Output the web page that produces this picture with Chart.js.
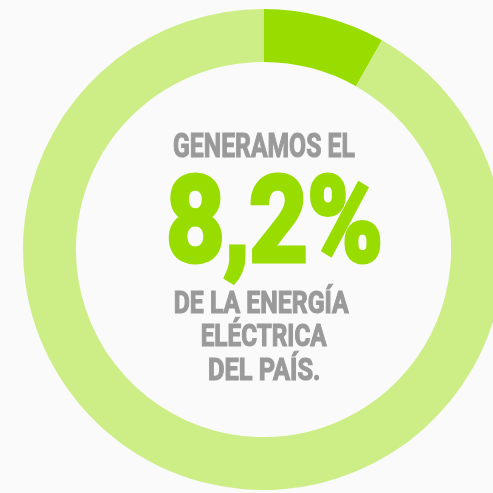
<!DOCTYPE html>
<html>
<head>
<meta charset="utf-8">
<script src="https://cdn.jsdelivr.net/npm/chart.js@4/dist/chart.umd.min.js"></script>
<style>
  html, body { margin: 0; padding: 0; background: #fafafa; overflow: hidden; width: 493px; height: 493px; }
  #wrap { position: absolute; left: 0; top: 0; width: 530px; height: 493px; }
</style>
</head>
<body>
<div id="wrap"><canvas id="c"></canvas></div>
<script>
// Data
const categories = ['Energía generada por nosotros', 'Resto de la energía del país'];
const shareValues = [8.2, 91.8];
const sliceColors = ['#99dd00', '#cdee86'];
const headline = 'GENERAMOS EL';
const bigFigure = '8,2%';
const footerLines = ['DE LA ENERGÍA', 'ELÉCTRICA', 'DEL PAÍS.'];

function drawFit(ctx, text, left, right, baseline, capH, color, lw) {
  const fam = 'Roboto, "DejaVu Sans", sans-serif';
  ctx.font = 'bold 100px ' + fam;
  const capRatio = ctx.measureText('H').actualBoundingBoxAscent / 100;
  const size = (capH - lw) / capRatio;
  ctx.font = 'bold ' + size + 'px ' + fam;
  ctx.textAlign = 'left';
  ctx.textBaseline = 'alphabetic';
  const m = ctx.measureText(text);
  const w = m.actualBoundingBoxLeft + m.actualBoundingBoxRight;
  const sx = (right - left) / (w + lw);
  ctx.save();
  ctx.translate(left, baseline - lw / 2);
  ctx.scale(sx, 1);
  ctx.fillStyle = color;
  ctx.strokeStyle = color;
  ctx.lineWidth = lw;
  ctx.lineJoin = 'miter';
  const x = m.actualBoundingBoxLeft + lw / 2;
  ctx.fillText(text, x, 0);
  if (lw > 0) ctx.strokeText(text, x, 0);
  ctx.restore();
}

const centerText = {
  id: 'centerText',
  afterDraw(chart) {
    const ctx = chart.ctx;
    drawFit(ctx, headline, 173.3, 355, 157.5, 25.5, '#9a9a9a', 1.2);
    drawFit(ctx, bigFigure, 168.3, 381, 263, 90, '#99dd00', 5);
    drawFit(ctx, footerLines[0], 174, 349.3, 314, 23.5, '#9a9a9a', 1.2);
    drawFit(ctx, footerLines[1], 201, 327.3, 347, 23.5, '#9a9a9a', 1.2);
    drawFit(ctx, footerLines[2], 208.3, 319.3, 380.5, 23.5, '#9a9a9a', 1.2);
  }
};

new Chart(document.getElementById('c'), {
  type: 'doughnut',
  data: {
    labels: categories,
    datasets: [{
      data: shareValues,
      backgroundColor: sliceColors,
      hoverBackgroundColor: sliceColors,
      borderWidth: 0,
      hoverOffset: 0,
      offset: 0
    }]
  },
  options: {
    responsive: true,
    maintainAspectRatio: false,
    animation: false,
    cutout: '78%',
    rotation: 0,
    layout: { padding: { left: 23, top: 9, right: 26, bottom: 3 } },
    plugins: { legend: { display: false }, tooltip: { enabled: false } },
    events: []
  },
  plugins: [centerText]
});
</script>
</body>
</html>
